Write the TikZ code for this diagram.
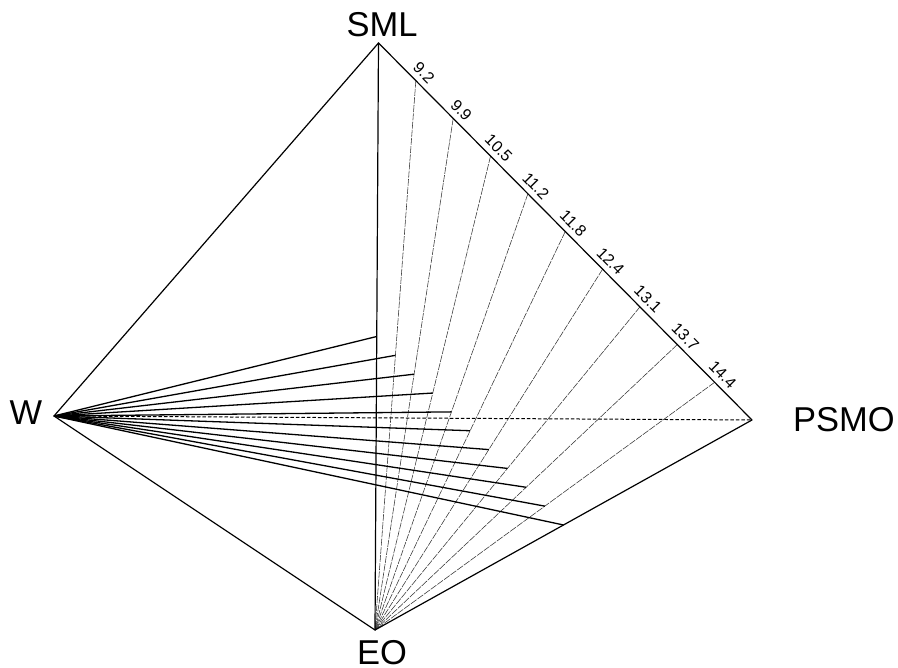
\documentclass[tikz,border=0pt]{standalone}
\usepackage{fontspec}
\setmainfont{Liberation Sans}
\usetikzlibrary{calc}
\begin{document}
\begin{tikzpicture}[x=1pt,y=1pt,
  edge/.style={line width=1.2pt,line cap=round,line join=round},
  tie/.style={line width=1.3pt},
  isoline/.style={line width=0.55pt,black!80,dash pattern=on 7pt off 1.2pt},
  baseline/.style={line width=1pt,dash pattern=on 3.5pt off 2pt},
  vlabel/.style={font=\fontsize{34.5}{40}\selectfont,inner sep=0pt},
  tlabel/.style={font=\fontsize{16}{18}\selectfont,rotate=-45.3,anchor=south,inner sep=0pt}]
\useasboundingbox (0,0) rectangle (898,668);

% corners of the projected tetrahedron
\coordinate (SML)  at (378.5,625);
\coordinate (W)    at (54,252);
\coordinate (EO)   at (375,38);
\coordinate (PSMO) at (752,248);

% scale points on the SML--PSMO edge and the midpoints towards EO
\foreach \k in {0,...,10}{
  \coordinate (T\k) at ($(SML)!\k/10!(PSMO)$);
  \coordinate (M\k) at ($(EO)!0.5!(T\k)$);
  \coordinate (P\k) at ($(T\k)!5.5pt!90:(PSMO)$);
}

% lines of constant value running down to EO
\foreach \k in {1,...,9}{
  \draw[isoline] (T\k) -- (EO);
}

% the W--PSMO base line
\draw[baseline] (W) -- (PSMO);

% tie lines from W
\foreach \k in {0,...,10}{
  \draw[tie] (W) -- (M\k);
}

% outline
\draw[edge] (W) -- (SML) -- (PSMO) -- (EO) -- cycle;
\draw[edge] (SML) -- (EO);

% scale labels
\foreach \k/\v in {1/9.2,2/9.9,3/10.5,4/11.2,5/11.8,6/12.4,7/13.1,8/13.7,9/14.4}{
  \node[tlabel] (L\k) at (P\k) {\v};
}

% corner labels
\node[vlabel] (lSML)  at (382,643.5) {SML};
\node[vlabel] (lW)    at (26,255)    {W};
\node[vlabel] (lEO)   at (382,15)    {EO};
\node[vlabel] (lPSMO) at (844,248)   {PSMO};
\end{tikzpicture}
\end{document}
